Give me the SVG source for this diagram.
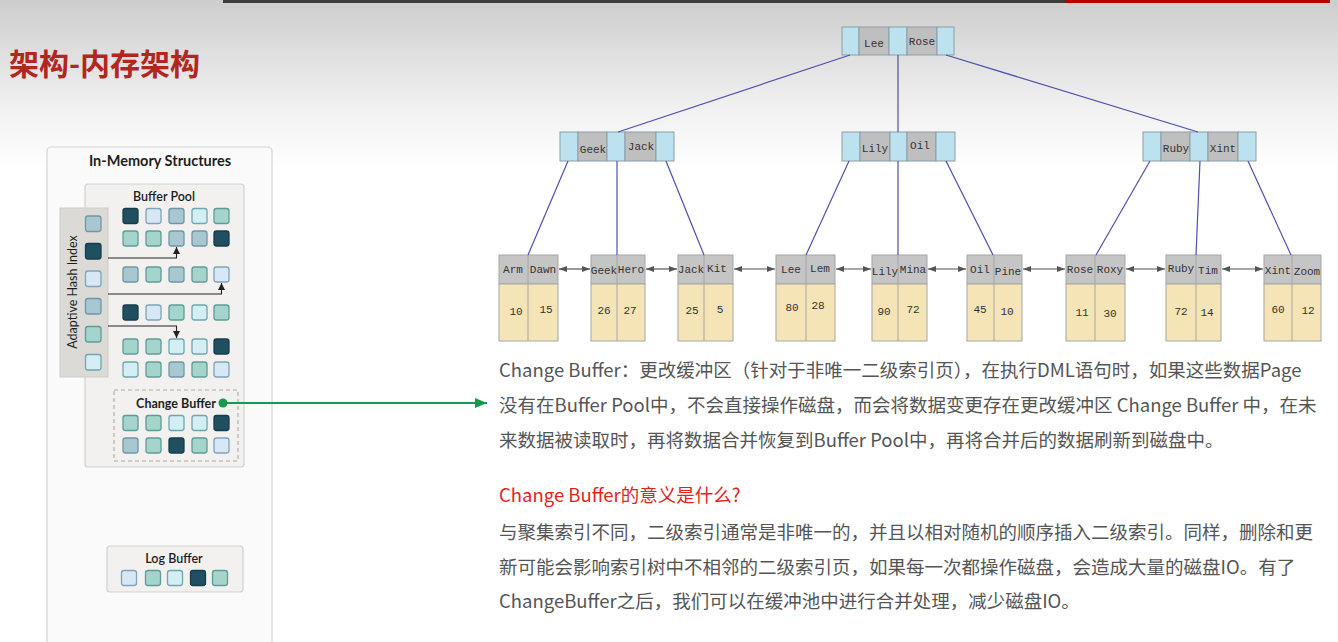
<svg xmlns="http://www.w3.org/2000/svg" width="1338" height="642" viewBox="0 0 1338 642">
  <defs>
    <linearGradient id="bgGrad" x1="0" y1="0" x2="0" y2="1">
      <stop offset="0" stop-color="#cdcdcd"/>
      <stop offset="0.6" stop-color="#efefef"/>
      <stop offset="1" stop-color="#ffffff"/>
    </linearGradient>
    <marker id="dblHead" viewBox="0 0 8 6" refX="8" refY="3" markerWidth="8" markerHeight="6" markerUnits="userSpaceOnUse" orient="auto-start-reverse">
      <path d="M0,0 L8,3 L0,6 z" fill="#555"/>
    </marker>
    <marker id="ptrHead" viewBox="0 0 7 7" refX="7" refY="3.5" markerWidth="7" markerHeight="7" markerUnits="userSpaceOnUse" orient="auto">
      <path d="M0,0 L7,3.5 L0,7 z" fill="#222"/>
    </marker>
    <marker id="greenHead" viewBox="0 0 12 10" refX="12" refY="5" markerWidth="12" markerHeight="10" markerUnits="userSpaceOnUse" orient="auto">
      <path d="M0,0 L12,5 L0,10 z" fill="#179a4b"/>
    </marker>
  </defs>
  <style>
    .lbl { font-family: Lato, "Open Sans", sans-serif; fill: #1e1e1e; text-anchor: middle; }
    .panel { fill: #fafafa; stroke: #d4d4d4; stroke-width: 1.2; }
    .pool { fill: #f2f1ef; stroke: #d3d1ce; stroke-width: 1.2; }
    .ahi { fill: #dcdad7; stroke: #cfccc9; stroke-width: 1; }
    .sq { stroke-width: 1.3; }
    .d { fill: #1f4f61; stroke: #173d4b; }
    .t { fill: #a4d4cc; stroke: #5e9d96; }
    .g { fill: #a9c7d1; stroke: #6f98a5; }
    .b { fill: #d7e8f4; stroke: #7fa4b9; }
    .c { fill: #d4eff3; stroke: #6ea7af; }
    .ptr { fill: none; stroke: #222; stroke-width: 1.1; marker-end: url(#ptrHead); }
    .kb { fill: #bbe2ee; stroke: #8b9ea6; stroke-width: 1; }
    .kg { fill: #bfbfbf; stroke: #8b9ea6; stroke-width: 1; }
    .lh { fill: #c5c5c5; stroke: #a6a6a6; stroke-width: 1; }
    .lv { fill: #f5e4b5; stroke: #a6a6a6; stroke-width: 1; }
    .mono { font-family: "Liberation Mono", "DejaVu Sans Mono", monospace; font-size: 11px; fill: #333; text-anchor: middle; }
    .edge { stroke: #4f4fae; stroke-width: 1.2; fill: none; }
    .link { stroke: #555; stroke-width: 1.2; marker-start: url(#dblHead); marker-end: url(#dblHead); }
    .body { font-family: "Noto Sans CJK SC", "Noto Sans", sans-serif; font-size: 18.5px; fill: #555; }
  </style>

  <!-- page background and top bar -->
  <rect x="0" y="0" width="1338" height="170" fill="url(#bgGrad)"/>
  <rect x="0" y="170" width="1338" height="472" fill="#ffffff"/>
  <rect x="223" y="0" width="842" height="3" fill="#3d3d3d"/>
  <rect x="1065" y="0" width="265" height="3" fill="#b40000"/>

  <!-- title -->
  <text x="9" y="75" font-family="'Noto Sans CJK SC', sans-serif" font-size="30" font-weight="700" fill="#b3261e">架构-内存架构</text>

  <!-- In-Memory Structures panel -->
  <g id="in-memory">
    <rect class="panel" x="47" y="147" width="225" height="510" rx="4"/>
    <text class="lbl" x="160" y="166" font-size="14.5" font-weight="700">In-Memory Structures</text>
  </g>

  <g id="buffer-pool">
    <rect class="pool" x="85" y="184" width="159" height="283" rx="3"/>
    <text class="lbl" x="164" y="201" font-size="12.5" font-weight="600">Buffer Pool</text>
    <!-- page grid -->
    <rect class="sq d" x="123" y="208.5" width="15" height="15" rx="2.5"/>
    <rect class="sq b" x="146" y="208.5" width="15" height="15" rx="2.5"/>
    <rect class="sq g" x="169" y="208.5" width="15" height="15" rx="2.5"/>
    <rect class="sq c" x="192" y="208.5" width="15" height="15" rx="2.5"/>
    <rect class="sq t" x="214" y="208.5" width="15" height="15" rx="2.5"/>

    <rect class="sq t" x="123" y="231" width="15" height="15" rx="2.5"/>
    <rect class="sq t" x="146" y="231" width="15" height="15" rx="2.5"/>
    <rect class="sq g" x="169" y="231" width="15" height="15" rx="2.5"/>
    <rect class="sq g" x="192" y="231" width="15" height="15" rx="2.5"/>
    <rect class="sq d" x="214" y="231" width="15" height="15" rx="2.5"/>

    <rect class="sq g" x="123" y="267" width="15" height="15" rx="2.5"/>
    <rect class="sq t" x="146" y="267" width="15" height="15" rx="2.5"/>
    <rect class="sq g" x="169" y="267" width="15" height="15" rx="2.5"/>
    <rect class="sq t" x="192" y="267" width="15" height="15" rx="2.5"/>
    <rect class="sq b" x="214" y="267" width="15" height="15" rx="2.5"/>

    <rect class="sq d" x="123" y="305" width="15" height="15" rx="2.5"/>
    <rect class="sq b" x="146" y="305" width="15" height="15" rx="2.5"/>
    <rect class="sq t" x="169" y="305" width="15" height="15" rx="2.5"/>
    <rect class="sq c" x="192" y="305" width="15" height="15" rx="2.5"/>
    <rect class="sq t" x="214" y="305" width="15" height="15" rx="2.5"/>

    <rect class="sq t" x="123" y="339" width="15" height="15" rx="2.5"/>
    <rect class="sq t" x="146" y="339" width="15" height="15" rx="2.5"/>
    <rect class="sq c" x="169" y="339" width="15" height="15" rx="2.5"/>
    <rect class="sq c" x="192" y="339" width="15" height="15" rx="2.5"/>
    <rect class="sq d" x="214" y="339" width="15" height="15" rx="2.5"/>

    <rect class="sq c" x="123" y="362" width="15" height="15" rx="2.5"/>
    <rect class="sq t" x="146" y="362" width="15" height="15" rx="2.5"/>
    <rect class="sq g" x="169" y="362" width="15" height="15" rx="2.5"/>
    <rect class="sq t" x="192" y="362" width="15" height="15" rx="2.5"/>
    <rect class="sq b" x="214" y="362" width="15" height="15" rx="2.5"/>
  </g>

  <g id="adaptive-hash-index">
    <rect class="ahi" x="60" y="208" width="48" height="169"/>
    <text class="lbl" transform="translate(77 292) rotate(-90)" font-size="12.5">Adaptive Hash Index</text>
    <rect class="sq g" x="85.5" y="216" width="15.5" height="15.5" rx="2.5"/>
    <rect class="sq d" x="85.5" y="243.5" width="15.5" height="15.5" rx="2.5"/>
    <rect class="sq b" x="85.5" y="271" width="15.5" height="15.5" rx="2.5"/>
    <rect class="sq g" x="85.5" y="298.5" width="15.5" height="15.5" rx="2.5"/>
    <rect class="sq t" x="85.5" y="326.5" width="15.5" height="15.5" rx="2.5"/>
    <rect class="sq c" x="85.5" y="354.5" width="15.5" height="15.5" rx="2.5"/>
    <!-- hash pointers into buffer pool pages -->
    <path class="ptr" d="M108,258 H176.5 V247"/>
    <path class="ptr" d="M108,294 H221.5 V283"/>
    <path class="ptr" d="M108,326 H176.5 V338"/>
  </g>

  <g id="change-buffer">
    <rect x="114" y="390" width="124" height="71" fill="none" stroke="#a9a9a9" stroke-width="1.1" stroke-dasharray="4 3"/>
    <text class="lbl" x="176" y="407.5" font-size="12.5" font-weight="700">Change Buffer</text>
    <rect class="sq t" x="123" y="415.5" width="15" height="15" rx="2.5"/>
    <rect class="sq t" x="146" y="415.5" width="15" height="15" rx="2.5"/>
    <rect class="sq c" x="169" y="415.5" width="15" height="15" rx="2.5"/>
    <rect class="sq c" x="192" y="415.5" width="15" height="15" rx="2.5"/>
    <rect class="sq d" x="214" y="415.5" width="15" height="15" rx="2.5"/>
    <rect class="sq g" x="123" y="438" width="15" height="15" rx="2.5"/>
    <rect class="sq t" x="146" y="438" width="15" height="15" rx="2.5"/>
    <rect class="sq d" x="169" y="438" width="15" height="15" rx="2.5"/>
    <rect class="sq t" x="192" y="438" width="15" height="15" rx="2.5"/>
    <rect class="sq b" x="214" y="438" width="15" height="15" rx="2.5"/>
  </g>

  <g id="log-buffer">
    <rect class="pool" x="107" y="546" width="136" height="46" rx="3"/>
    <text class="lbl" x="174" y="562.5" font-size="12.5" font-weight="600">Log Buffer</text>
    <rect class="sq b" x="121.5" y="570.5" width="15" height="15" rx="2.5"/>
    <rect class="sq t" x="145.5" y="570.5" width="15" height="15" rx="2.5"/>
    <rect class="sq c" x="167.5" y="570.5" width="15" height="15" rx="2.5"/>
    <rect class="sq d" x="190.5" y="570.5" width="15" height="15" rx="2.5"/>
    <rect class="sq t" x="212.5" y="570.5" width="15" height="15" rx="2.5"/>
  </g>

  <!-- B+ tree: inner nodes -->
  <g id="root-node">
    <rect class="kb" x="842" y="27" width="17" height="28"/>
    <rect class="kg" x="859" y="27" width="30" height="28"/>
    <rect class="kb" x="889" y="27" width="18" height="28"/>
    <rect class="kg" x="907" y="27" width="30" height="28"/>
    <rect class="kb" x="937" y="27" width="17" height="28"/>
    <text class="mono" x="874" y="47">Lee</text>
    <text class="mono" x="922" y="45">Rose</text>
  </g>

  <g id="inner-geek-jack">
    <rect class="kb" x="560" y="132" width="18" height="29"/>
    <rect class="kg" x="578" y="132" width="29" height="29"/>
    <rect class="kb" x="607" y="132" width="18" height="29"/>
    <rect class="kg" x="625" y="132" width="31" height="29"/>
    <rect class="kb" x="656" y="132" width="18" height="29"/>
    <text class="mono" x="593" y="153">Geek</text>
    <text class="mono" x="641" y="150">Jack</text>
  </g>

  <g id="inner-lily-oil">
    <rect class="kb" x="842" y="132" width="18" height="29"/>
    <rect class="kg" x="860" y="132" width="30" height="29"/>
    <rect class="kb" x="890" y="132" width="17" height="29"/>
    <rect class="kg" x="907" y="132" width="29" height="29"/>
    <rect class="kb" x="936" y="132" width="19" height="29"/>
    <text class="mono" x="875" y="152">Lily</text>
    <text class="mono" x="920" y="149">Oil</text>
  </g>

  <g id="inner-ruby-xint">
    <rect class="kb" x="1143" y="132" width="18" height="29"/>
    <rect class="kg" x="1161" y="132" width="29" height="29"/>
    <rect class="kb" x="1190" y="132" width="18" height="29"/>
    <rect class="kg" x="1208" y="132" width="30" height="29"/>
    <rect class="kb" x="1238" y="132" width="18" height="29"/>
    <text class="mono" x="1176" y="152">Ruby</text>
    <text class="mono" x="1223" y="152">Xint</text>
  </g>

  <!-- B+ tree: leaf pages -->
  <g id="leaf-arm-dawn">
    <rect class="lh" x="499" y="255" width="59" height="29"/>
    <rect class="lv" x="499" y="284" width="59" height="57"/>
    <line x1="528" y1="255" x2="528" y2="341" stroke="#a6a6a6"/>
    <text class="mono" x="513" y="273">Arm</text><text class="mono" x="543" y="273">Dawn</text>
    <text class="mono" x="516" y="315">10</text><text class="mono" x="546" y="313">15</text>
  </g>
  <g id="leaf-geek-hero">
    <rect class="lh" x="591" y="255" width="54" height="29"/>
    <rect class="lv" x="591" y="284" width="54" height="57"/>
    <line x1="617" y1="255" x2="617" y2="341" stroke="#a6a6a6"/>
    <text class="mono" x="604" y="274">Geek</text><text class="mono" x="631" y="273">Hero</text>
    <text class="mono" x="604" y="314">26</text><text class="mono" x="630" y="314">27</text>
  </g>
  <g id="leaf-jack-kit">
    <rect class="lh" x="678" y="255" width="55" height="29"/>
    <rect class="lv" x="678" y="284" width="55" height="57"/>
    <line x1="704" y1="255" x2="704" y2="341" stroke="#a6a6a6"/>
    <text class="mono" x="691" y="273">Jack</text><text class="mono" x="717" y="272">Kit</text>
    <text class="mono" x="692" y="314">25</text><text class="mono" x="720" y="313">5</text>
  </g>
  <g id="leaf-lee-lem">
    <rect class="lh" x="776" y="255" width="59" height="29"/>
    <rect class="lv" x="776" y="284" width="59" height="57"/>
    <line x1="806" y1="255" x2="806" y2="341" stroke="#a6a6a6"/>
    <text class="mono" x="791" y="273">Lee</text><text class="mono" x="820" y="272">Lem</text>
    <text class="mono" x="792" y="311">80</text><text class="mono" x="818" y="309">28</text>
  </g>
  <g id="leaf-lily-mina">
    <rect class="lh" x="872" y="255" width="55" height="29"/>
    <rect class="lv" x="872" y="284" width="55" height="57"/>
    <line x1="898" y1="255" x2="898" y2="341" stroke="#a6a6a6"/>
    <text class="mono" x="885" y="275">Lily</text><text class="mono" x="913" y="273">Mina</text>
    <text class="mono" x="884" y="315">90</text><text class="mono" x="913" y="313">72</text>
  </g>
  <g id="leaf-oil-pine">
    <rect class="lh" x="967" y="255" width="55" height="29"/>
    <rect class="lv" x="967" y="284" width="55" height="57"/>
    <line x1="994" y1="255" x2="994" y2="341" stroke="#a6a6a6"/>
    <text class="mono" x="980" y="273">Oil</text><text class="mono" x="1008" y="275">Pine</text>
    <text class="mono" x="980" y="313">45</text><text class="mono" x="1007" y="315">10</text>
  </g>
  <g id="leaf-rose-roxy">
    <rect class="lh" x="1066" y="255" width="59" height="29"/>
    <rect class="lv" x="1066" y="284" width="59" height="57"/>
    <line x1="1095" y1="255" x2="1095" y2="341" stroke="#a6a6a6"/>
    <text class="mono" x="1080" y="273">Rose</text><text class="mono" x="1110" y="273">Roxy</text>
    <text class="mono" x="1082" y="316">11</text><text class="mono" x="1110" y="317">30</text>
  </g>
  <g id="leaf-ruby-tim">
    <rect class="lh" x="1166" y="255" width="55" height="29"/>
    <rect class="lv" x="1166" y="284" width="55" height="57"/>
    <line x1="1196" y1="255" x2="1196" y2="341" stroke="#a6a6a6"/>
    <text class="mono" x="1181" y="272">Ruby</text><text class="mono" x="1208" y="274">Tim</text>
    <text class="mono" x="1181" y="315">72</text><text class="mono" x="1207" y="316">14</text>
  </g>
  <g id="leaf-xint-zoom">
    <rect class="lh" x="1264" y="255" width="57" height="29"/>
    <rect class="lv" x="1264" y="284" width="57" height="57"/>
    <line x1="1292" y1="255" x2="1292" y2="341" stroke="#a6a6a6"/>
    <text class="mono" x="1278" y="274">Xint</text><text class="mono" x="1307" y="275">Zoom</text>
    <text class="mono" x="1278" y="313">60</text><text class="mono" x="1308" y="314">12</text>
  </g>

  <!-- connectors -->
  <g id="connectors">
    <!-- root to inner nodes -->
    <line class="edge" x1="850" y1="55" x2="618" y2="132"/>
    <line class="edge" x1="898" y1="55" x2="898" y2="132"/>
    <line class="edge" x1="946" y1="55" x2="1198" y2="132"/>
    <!-- inner nodes to leaves -->
    <line class="edge" x1="568" y1="161" x2="528" y2="255"/>
    <line class="edge" x1="617" y1="161" x2="617" y2="255"/>
    <line class="edge" x1="666" y1="161" x2="704" y2="255"/>
    <line class="edge" x1="849" y1="161" x2="806" y2="255"/>
    <line class="edge" x1="898" y1="161" x2="898" y2="255"/>
    <line class="edge" x1="946" y1="161" x2="993" y2="255"/>
    <line class="edge" x1="1150" y1="161" x2="1096" y2="255"/>
    <line class="edge" x1="1200" y1="161" x2="1196" y2="255"/>
    <line class="edge" x1="1248" y1="161" x2="1291" y2="255"/>
    <!-- sibling links between leaves -->
    <line class="link" x1="559" y1="269" x2="590" y2="269"/>
    <line class="link" x1="646" y1="269" x2="677" y2="269"/>
    <line class="link" x1="734" y1="269" x2="775" y2="269"/>
    <line class="link" x1="836" y1="269" x2="871" y2="269"/>
    <line class="link" x1="928" y1="269" x2="966" y2="269"/>
    <line class="link" x1="1023" y1="269" x2="1065" y2="269"/>
    <line class="link" x1="1126" y1="269" x2="1165" y2="269"/>
    <line class="link" x1="1222" y1="269" x2="1263" y2="269"/>
    <!-- change buffer callout -->
    <circle cx="223" cy="403" r="4.5" fill="#179a4b"/>
    <line x1="223" y1="403" x2="487" y2="403" stroke="#179a4b" stroke-width="2" marker-end="url(#greenHead)"/>
  </g>

  <!-- explanation text -->
  <g id="notes">
    <text class="body" x="499" y="377">Change Buffer：更改缓冲区（针对于非唯一二级索引页），在执行DML语句时，如果这些数据Page</text>
    <text class="body" x="499" y="412">没有在Buffer Pool中，不会直接操作磁盘，而会将数据变更存在更改缓冲区 Change Buffer 中，在未</text>
    <text class="body" x="499" y="447">来数据被读取时，再将数据合并恢复到Buffer Pool中，再将合并后的数据刷新到磁盘中。</text>
    <text class="body" x="499" y="502" style="fill:#e5231b">Change Buffer的意义是什么?</text>
    <text class="body" x="499" y="539">与聚集索引不同，二级索引通常是非唯一的，并且以相对随机的顺序插入二级索引。同样，删除和更</text>
    <text class="body" x="499" y="574">新可能会影响索引树中不相邻的二级索引页，如果每一次都操作磁盘，会造成大量的磁盘IO。有了</text>
    <text class="body" x="499" y="608">ChangeBuffer之后，我们可以在缓冲池中进行合并处理，减少磁盘IO。</text>
  </g>
</svg>
